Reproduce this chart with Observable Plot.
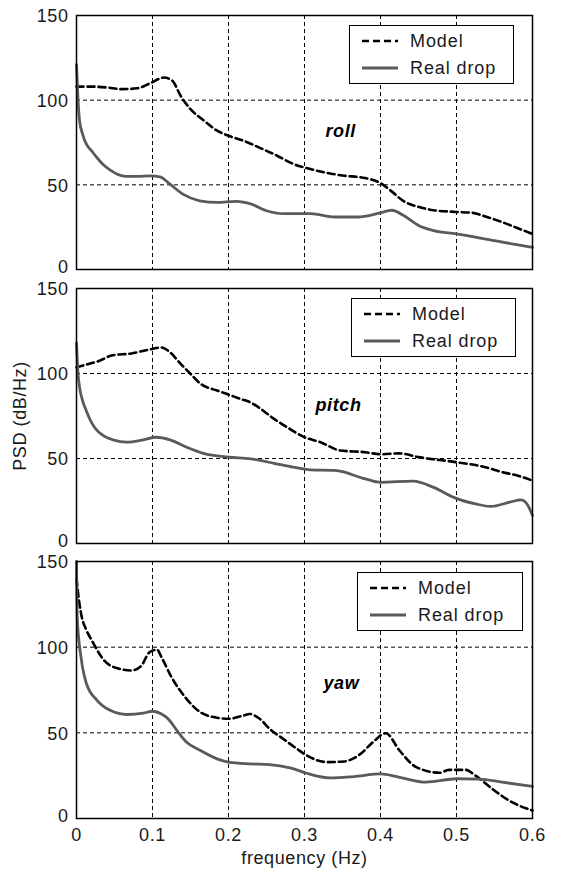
<!DOCTYPE html>
<html>
<head>
<meta charset="utf-8">
<script src="https://cdn.jsdelivr.net/npm/d3@7"></script>
<script src="https://cdn.jsdelivr.net/npm/@observablehq/plot@0.6"></script>
<style>
  body { margin: 0; background: #fff; }
  #chart { position: relative; width: 562px; height: 873px; overflow: hidden;
           font-family: "Liberation Sans", Arial, sans-serif; color: #1a1a1a; }
  .panel { position: absolute; left: 0; }
  .legend { position: absolute; background: #fff; border: 1px solid #000; box-sizing: border-box; }
  .legend .row { position: absolute; left: 0; right: 0; height: 22px; }
  .legend svg { position: absolute; left: 11px; top: 0; }
  .legend span { position: absolute; left: 60px; top: 1px; font-size: 18px; letter-spacing: 0.9px; line-height: 20px; }
</style>
</head>
<body>
<div id="chart"></div>
<script>
// ---------------- data ----------------
const panelNames = ["roll", "pitch", "yaw"];
const seriesNames = ["Model", "Real drop"];
const xTicks = [0, 0.1, 0.2, 0.3, 0.4, 0.5, 0.6];
const yTicks = [0, 50, 100, 150];
const xLabel = "frequency (Hz)";
const yLabel = "PSD (dB/Hz)";

// [frequency (Hz), PSD (dB/Hz)]
const rollModel = [[0,108],[0.02,108],[0.04,107.5],[0.06,106.5],[0.08,107],[0.097,110],[0.115,113.4],[0.126,111.5],[0.137,102.6],[0.15,94.7],[0.168,87.8],[0.185,82],[0.2,79],[0.22,76],[0.242,71.7],[0.264,67.2],[0.286,62.2],[0.308,59.3],[0.33,57],[0.35,55.5],[0.38,54],[0.4,51],[0.415,46],[0.43,40.5],[0.45,37],[0.47,35],[0.5,34],[0.52,33.5],[0.54,31],[0.56,28],[0.58,24.5],[0.6,21]];
const rollReal = [[0,121],[0.002,100],[0.004,88],[0.008,80],[0.013,74],[0.02,70],[0.027,66],[0.035,62],[0.045,58.5],[0.055,56],[0.065,55],[0.08,55],[0.097,55.3],[0.11,54.7],[0.123,50.4],[0.14,44.5],[0.162,40.6],[0.185,39.6],[0.21,40.2],[0.23,38.6],[0.25,34.7],[0.272,33],[0.308,33],[0.34,31],[0.37,31],[0.4,33.5],[0.415,35],[0.43,32],[0.45,26],[0.47,23],[0.5,21],[0.55,17],[0.6,13]];
const pitchModel = [[0,103.7],[0.015,105.5],[0.031,107.6],[0.046,110.6],[0.072,111.8],[0.09,113.5],[0.112,115.3],[0.123,112.5],[0.137,105.7],[0.15,99.8],[0.163,94],[0.185,90],[0.2,87.6],[0.216,85],[0.229,83],[0.243,79],[0.26,73.3],[0.277,68.4],[0.3,62.5],[0.321,59.6],[0.347,54.7],[0.38,53.7],[0.4,52.5],[0.425,53],[0.45,50.8],[0.5,47.8],[0.538,44.9],[0.56,42],[0.58,40],[0.6,37]];
const pitchReal = [[0,118],[0.002,100],[0.004,92],[0.008,84],[0.013,78],[0.02,71],[0.027,66.5],[0.037,63],[0.048,61],[0.066,59.6],[0.088,61],[0.105,62.5],[0.123,61],[0.145,56.6],[0.167,53],[0.2,50.8],[0.229,49.8],[0.26,47.2],[0.285,44.9],[0.308,43.3],[0.34,43],[0.38,38],[0.4,36],[0.443,36.7],[0.47,33],[0.497,27],[0.525,23.3],[0.545,21.8],[0.57,24.3],[0.585,25.7],[0.594,22.4],[0.6,16.5]];
const yawModel = [[0,140],[0.004,125],[0.007,117.5],[0.013,110],[0.02,104],[0.037,92],[0.055,87.5],[0.072,86.4],[0.085,89],[0.096,97],[0.106,98.5],[0.112,94],[0.125,82.5],[0.143,70.8],[0.163,62],[0.185,58.8],[0.2,58.2],[0.219,60],[0.228,61],[0.241,58.2],[0.254,52.4],[0.272,46.5],[0.29,40.7],[0.303,36.8],[0.33,32.9],[0.352,33.3],[0.374,37.8],[0.39,44.5],[0.407,49.8],[0.425,39.7],[0.447,30],[0.478,26.7],[0.49,28.4],[0.512,28.4],[0.525,25],[0.547,17.3],[0.573,9.5],[0.6,4.7]];
const yawReal = [[0,150],[0.001,117],[0.006,94],[0.013,78.8],[0.027,69],[0.045,63],[0.066,60.7],[0.088,61.5],[0.1,62.6],[0.112,61],[0.122,57.5],[0.132,51.4],[0.145,44.5],[0.163,39.7],[0.185,34.8],[0.2,32.9],[0.228,31.9],[0.254,31.5],[0.281,29.6],[0.303,26.4],[0.334,23.7],[0.365,24.5],[0.4,26],[0.425,24],[0.46,21.2],[0.5,23.2],[0.53,23],[0.56,21.2],[0.6,18.7]];

const panelSeries = [[rollModel, rollReal], [pitchModel, pitchReal], [yawModel, yawReal]];

// ---------------- layout & style ----------------
const seriesStyle = [
  { stroke: "#000", strokeWidth: 2.6, strokeDasharray: "7,4" },
  { stroke: "#5a5a5a", strokeWidth: 2.8, strokeDasharray: null }
];
const panelLayout = [
  { top: 0,   height: 278, mt: 15, mb: 9 },
  { top: 278, height: 274, mt: 10, mb: 9 },
  { top: 552, height: 321, mt: 9,  mb: 55 }
];
const nameOffset = [ { dx: 249, dy: 116 }, { dx: 239, dy: 117 }, { dx: 247, dy: 122 } ];
const legendBox = [
  { left: 349, top: 25,  width: 165, height: 59 },
  { left: 351, top: 298, width: 165, height: 59 },
  { left: 357, top: 572, width: 166, height: 59 }
];

const font = '"Liberation Sans", Arial, sans-serif';
const chart = document.getElementById("chart");

panelNames.forEach((name, i) => {
  const L = panelLayout[i];
  const isLast = i === panelNames.length - 1;
  const lines = panelSeries[i].map((pts, s) =>
    Plot.line(pts.map(([f, v]) => ({ f, v })), {
      x: "f", y: "v", curve: "monotone-x",
      stroke: seriesStyle[s].stroke, strokeWidth: seriesStyle[s].strokeWidth,
      strokeDasharray: seriesStyle[s].strokeDasharray, strokeLinejoin: "round"
    })
  );
  const svg = Plot.plot({
    width: 562, height: L.height,
    marginLeft: 76, marginRight: 30, marginTop: L.mt, marginBottom: L.mb,
    style: { fontFamily: font, fontSize: "18px", color: "#1a1a1a", background: "transparent", overflow: "visible", letterSpacing: "0.6px" },
    x: { domain: [0, 0.6], axis: null },
    y: { domain: [0, 150], axis: null },
    marks: [
      Plot.gridX(xTicks.slice(1, -1), { stroke: "#000", strokeOpacity: 1, strokeWidth: 1, strokeDasharray: "4,3" }),
      Plot.gridY(yTicks.slice(1, -1), { stroke: "#000", strokeOpacity: 1, strokeWidth: 1, strokeDasharray: "4,3" }),
      ...lines,
      Plot.frame({ stroke: "#000", strokeWidth: 1.5 }),
      Plot.axisY(yTicks.slice(0, 1), { tickSize: 0, tickPadding: 8, dy: -2.5, label: null }),
      Plot.axisY(yTicks.slice(1), {
        tickSize: 0, tickPadding: 8, dy: 1,
        label: i === 1 ? yLabel : null, labelAnchor: "center", labelArrow: "none", labelOffset: 63
      }),
      isLast ? Plot.axisX(xTicks, {
        tickSize: 0, tickPadding: 10, tickFormat: d => String(d),
        label: xLabel, labelAnchor: "center", labelArrow: "none", labelOffset: 45
      }) : null,
      Plot.text([name], {
        text: d => d, frameAnchor: "top-left", textAnchor: "start", lineAnchor: "middle",
        dx: nameOffset[i].dx, dy: nameOffset[i].dy,
        fontWeight: "bold", fontStyle: "italic", fontSize: 18, fill: "#000"
      })
    ]
  });
  svg.classList.add("panel");
  svg.style.top = L.top + "px";
  chart.appendChild(svg);

  // legend box
  const B = legendBox[i];
  const lg = document.createElement("div");
  lg.className = "legend";
  Object.assign(lg.style, { left: B.left + "px", top: B.top + "px", width: B.width + "px", height: B.height + "px" });
  seriesNames.forEach((sn, s) => {
    const row = document.createElement("div");
    row.className = "row";
    row.style.top = (s === 0 ? 4 : 31) + "px";
    const st = seriesStyle[s];
    row.innerHTML = `<svg width="38" height="22"><line x1="1" x2="37" y1="11" y2="11" stroke="${st.stroke}" stroke-width="${st.strokeWidth}" ${st.strokeDasharray ? `stroke-dasharray="${st.strokeDasharray}"` : ""}/></svg><span>${sn}</span>`;
    lg.appendChild(row);
  });
  chart.appendChild(lg);
});
</script>
</body>
</html>
